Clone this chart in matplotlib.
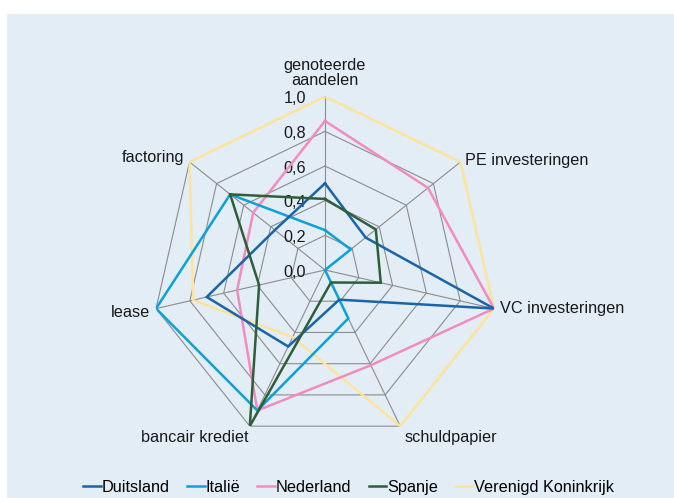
import numpy as np
import matplotlib
matplotlib.use("Agg")
import matplotlib.pyplot as plt
from matplotlib.patches import Rectangle
from matplotlib.lines import Line2D

plt.rcParams['font.family'] = ['Liberation Sans', 'DejaVu Sans']

categories = ["genoteerde\naandelen", "PE investeringen", "VC investeringen",
              "schuldpapier", "bancair krediet", "lease", "factoring"]
duitsland = [0.50, 0.30, 1.00, 0.19, 0.49, 0.70, 0.37]
italie = [0.23, 0.19, 0.00, 0.31, 0.90, 1.00, 0.70]
nederland = [0.86, 0.76, 1.00, 0.61, 0.90, 0.52, 0.53]
spanje = [0.41, 0.375, 0.33, 0.08, 1.00, 0.39, 0.70]
vk = [1.00, 1.00, 1.00, 1.00, 0.43, 0.78, 1.00]
series_names = ["Duitsland", "Italië", "Nederland", "Spanje", "Verenigd Koninkrijk"]
tick_values = [0.0, 0.2, 0.4, 0.6, 0.8, 1.0]
tick_labels = ["0,0", "0,2", "0,4", "0,6", "0,8", "1,0"]

colors = ["#1a64a8", "#0ea0d8", "#f28cbf", "#2e5e3a", "#fde49a"]
bg = "#e2edf6"

fig = plt.figure(figsize=(6.74, 4.98), dpi=100)
fig.patch.set_facecolor("white")
bgrect = Rectangle((7 / 674, 0), 1 - 7 / 674, (498 - 14) / 498,
                   transform=fig.transFigure, facecolor=bg,
                   edgecolor="none", zorder=-10)
fig.add_artist(bgrect)

cx, cy, R = 325, 270, 173.3
ax = fig.add_axes([(cx - R) / 674, (498 - cy - R) / 498, 2 * R / 674, 2 * R / 498],
                  projection="polar")
ax.set_zorder(1)
ax.set_facecolor("none")
ax.patch.set_alpha(0)
ax.set_theta_zero_location("N")
ax.set_theta_direction(-1)
ax.set_ylim(0, 1)
ax.grid(False)
ax.spines["polar"].set_visible(False)
ax.set_xticks([])
ax.set_yticks([])

n = len(categories)
theta = np.arange(n) * 2 * np.pi / n
theta_closed = np.append(theta, theta[0])

grid_color = "#8c8c8c"
for lv in tick_values[1:]:
    ax.plot(theta_closed, [lv] * (n + 1), color=grid_color, lw=0.8, zorder=1)
for t in theta:
    ax.plot([t, t], [0, 1], color=grid_color, lw=0.8, zorder=1)

data = [duitsland, italie, nederland, spanje, vk]
order = [4, 2, 1, 0, 3]
for z, i in enumerate(order):
    vals = data[i]
    ax.plot(theta_closed, list(vals) + [vals[0]], color=colors[i], lw=1.8,
            zorder=3 + z, solid_joinstyle="miter")

fs = 11.7
for v, lab in zip(tick_values, tick_labels):
    ax.annotate(lab, xy=(0, v), xytext=(-13.5, -1.5), textcoords="offset points",
                ha="right", va="center", fontsize=fs, color="#1a1a1a", zorder=2)

label_cfg = [
    (0, 6, "center", "bottom"),
    (3, 1, "left", "center"),
    (4, 0, "left", "center"),
    (3, -3, "left", "top"),
    (-1, -3, "right", "top"),
    (-4, -3, "right", "center"),
    (-4, 3, "right", "center"),
]
for t, lab, (dx, dy, ha, va) in zip(theta, categories, label_cfg):
    ax.annotate(lab, xy=(t, 1.0), xytext=(dx, dy), textcoords="offset points",
                ha=ha, va=va, fontsize=fs, color="#1a1a1a",
                multialignment="center", linespacing=1.05,
                annotation_clip=False)

handles = [Line2D([], [], color=c, lw=1.8) for c in colors]
fig.legend(handles, series_names, loc="center", bbox_to_anchor=(0.517, 0.021),
           ncol=5, frameon=False, fontsize=fs, handlelength=1.1,
           handletextpad=0.05, columnspacing=1.05)

fig.savefig("out.png", dpi=100, facecolor=fig.get_facecolor())
